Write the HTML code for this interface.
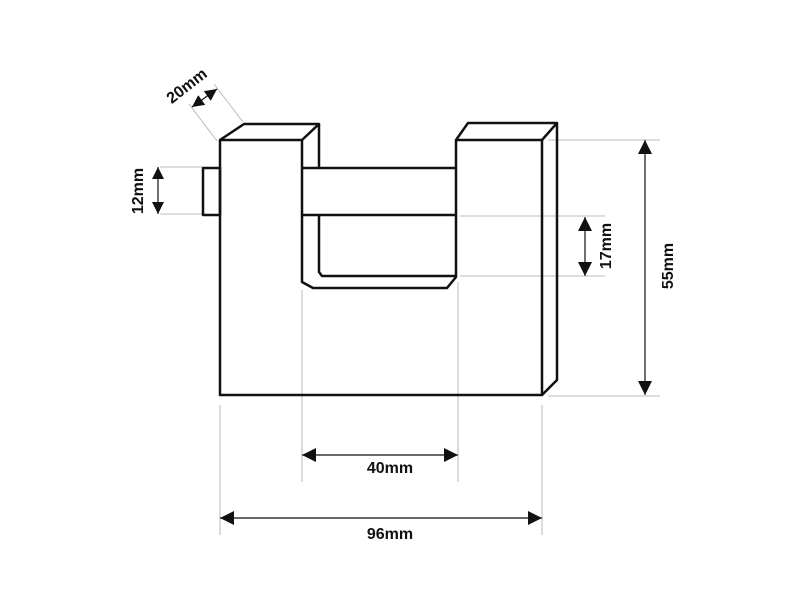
<!DOCTYPE html>
<html><head><style>body{margin:0;background:#fff}svg{display:block}text{font-family:"Liberation Sans",sans-serif;font-weight:bold;font-size:16px;fill:#111}</style></head>
<body>
<svg width="800" height="600" viewBox="0 0 800 600">
<defs>
<marker id="a" viewBox="0 0 10 10" refX="10" refY="5" markerWidth="12" markerHeight="12" markerUnits="userSpaceOnUse" orient="auto-start-reverse"><path d="M0,0L10,5L0,10z" fill="#111"/></marker>
<marker id="b" viewBox="0 0 10 10" refX="10" refY="5" markerWidth="14" markerHeight="14" markerUnits="userSpaceOnUse" orient="auto-start-reverse"><path d="M0,0L10,5L0,10z" fill="#111"/></marker>
</defs>
<g stroke="#bbb" stroke-width="1" fill="none">
<line x1="160" y1="167" x2="203" y2="167"/><line x1="160" y1="214" x2="203" y2="214"/>
<line x1="217" y1="141" x2="189" y2="104"/><line x1="243" y1="122" x2="214" y2="84"/>
<line x1="548" y1="140" x2="660" y2="140"/><line x1="548" y1="396" x2="660" y2="396"/>
<line x1="460" y1="216" x2="605" y2="216"/><line x1="460" y1="276" x2="605" y2="276"/>
<line x1="302" y1="290" x2="302" y2="482"/><line x1="458" y1="282" x2="458" y2="482"/>
<line x1="220" y1="405" x2="220" y2="535"/><line x1="542" y1="405" x2="542" y2="535"/>
</g>
<g stroke="#111" stroke-width="2.5" fill="none" stroke-linejoin="round">
<rect x="203" y="168" width="17" height="47"/>
<path d="M220,140 L220,395 L542,395 L542,140 L456,140 L456,277 L447,288 L313,288 L302,282 L302,140 Z"/>
<path d="M220,140 L244,124 L319,124 L302,140"/>
<line x1="319" y1="124" x2="319" y2="168"/>
<path d="M302,168 L456,168 M302,215 L456,215"/>
<path d="M319,215 L319,272 L322,276 L456,276"/>
<path d="M456,140 L468,123 L557,123 L542,140"/>
<path d="M557,123 L557,380 L542,395"/>
</g>
<g stroke="#111" stroke-width="1.2">
<line x1="158" y1="167" x2="158" y2="214" marker-start="url(#a)" marker-end="url(#a)"/>
<line x1="192" y1="107" x2="217" y2="89" marker-start="url(#a)" marker-end="url(#a)"/>
<line x1="645" y1="140" x2="645" y2="395" marker-start="url(#b)" marker-end="url(#b)"/>
<line x1="585" y1="217" x2="585" y2="276" marker-start="url(#b)" marker-end="url(#b)"/>
<line x1="302" y1="455" x2="458" y2="455" marker-start="url(#b)" marker-end="url(#b)"/>
<line x1="220" y1="518" x2="542" y2="518" marker-start="url(#b)" marker-end="url(#b)"/>
</g>
<text x="143" y="191" text-anchor="middle" transform="rotate(-90 143 191)">12mm</text>
<text x="190" y="90" text-anchor="middle" transform="rotate(-38 190 90)">20mm</text>
<text x="673" y="266" text-anchor="middle" transform="rotate(-90 673 266)">55mm</text>
<text x="611" y="246" text-anchor="middle" transform="rotate(-90 611 246)">17mm</text>
<text x="390" y="473" text-anchor="middle">40mm</text>
<text x="390" y="539" text-anchor="middle">96mm</text>
</svg>
</body></html>
